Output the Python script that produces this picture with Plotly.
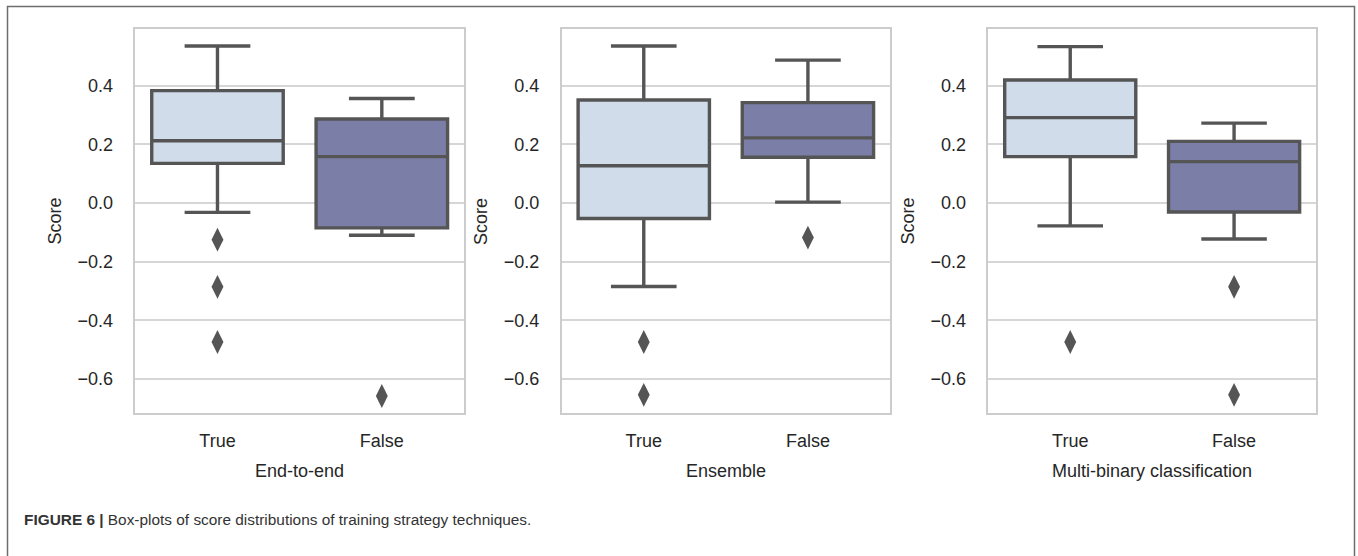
import plotly.graph_objects as go

# ---------------- data ----------------
panels = ["End-to-end", "Ensemble", "Multi-binary classification"]
conditions = ["True", "False"]

upper_whisker = [[0.535, 0.356], [0.535, 0.487], [0.533, 0.272]]
q3_values = [[0.383, 0.286], [0.351, 0.342], [0.419, 0.210]]
medians = [[0.212, 0.158], [0.127, 0.222], [0.291, 0.141]]
q1_values = [[0.135, -0.085], [-0.053, 0.156], [0.158, -0.031]]
lower_whisker = [[-0.032, -0.110], [-0.285, 0.003], [-0.078, -0.123]]
outliers = [
    [[-0.125, -0.286, -0.474], [-0.658]],
    [[-0.474, -0.654], [-0.118]],
    [[-0.474], [-0.286, -0.654]],
]

y_tick_values = [-0.6, -0.4, -0.2, 0.0, 0.2, 0.4]
y_tick_labels = ["\u22120.6", "\u22120.4", "\u22120.2", "0.0", "0.2", "0.4"]
y_title = "Score"
caption_bold = "FIGURE 6 |"
caption_text = "Box-plots of score distributions of training strategy techniques."

# ---------------- styling ----------------
W, H = 1358, 556
fill_colors = ["#d0dcea", "#7b7fa8"]
line_color = "#555555"
text_color = "#262626"
grid_color = "#d6d6d6"
font_family = "Liberation Sans, Arial, sans-serif"

# plot-area pixel boxes (left, right)
x_px = [(135.3, 464.0), (561.7, 890.0), (988.3, 1316.0)]
y_top_px, y_bot_px = 29.3, 413.3
y_range = [-0.717, 0.592]

fig = go.Figure()

for i, name in enumerate(panels):
    xa = "x" if i == 0 else f"x{i+1}"
    ya = "y" if i == 0 else f"y{i+1}"
    for j, cond in enumerate(conditions):
        fig.add_trace(go.Box(
            x=[cond],
            q1=[q1_values[i][j]],
            median=[medians[i][j]],
            q3=[q3_values[i][j]],
            lowerfence=[lower_whisker[i][j]],
            upperfence=[upper_whisker[i][j]],
            fillcolor=fill_colors[j],
            line=dict(color=line_color, width=3.4),
            width=0.8,
            whiskerwidth=0.5,
            boxpoints=False,
            showlegend=False,
            xaxis=xa, yaxis=ya,
        ))
        pts = outliers[i][j]
        fig.add_trace(go.Scatter(
            x=[cond] * len(pts),
            y=pts,
            mode="markers",
            marker=dict(symbol="diamond-tall", size=17, color=line_color,
                        line=dict(width=0)),
            showlegend=False,
            xaxis=xa, yaxis=ya,
        ))

layout = dict(
    width=W, height=H,
    margin=dict(l=0, r=0, t=0, b=0),
    paper_bgcolor="white",
    plot_bgcolor="white",
    font=dict(family=font_family, size=18, color=text_color),
)

annotations = []
for i, name in enumerate(panels):
    suffix = "" if i == 0 else str(i + 1)
    l, r = x_px[i]
    layout[f"xaxis{suffix}"] = dict(
        domain=[l / W, r / W],
        anchor=f"y{suffix}",
        type="category",
        categoryorder="array",
        categoryarray=conditions,
        range=[-0.5, 1.5],
        showgrid=False,
        showline=True, mirror=True, linecolor="#cccccc", linewidth=1.5,
        ticks="", ticklabelstandoff=10,
        tickfont=dict(size=18, color=text_color),
        zeroline=False,
    )
    layout[f"yaxis{suffix}"] = dict(
        domain=[1 - y_bot_px / H, 1 - y_top_px / H],
        anchor=f"x{suffix}",
        range=y_range,
        tickvals=y_tick_values,
        ticktext=y_tick_labels,
        showgrid=True, gridcolor=grid_color, gridwidth=1.5,
        showline=True, mirror=True, linecolor="#cccccc", linewidth=1.5,
        ticks="", ticklabelstandoff=17,
        tickfont=dict(size=18, color=text_color),
        zeroline=False,
    )
    # y title
    annotations.append(dict(
        text=y_title, textangle=-90,
        x=(l - 80) / W, y=1 - ((y_top_px + y_bot_px) / 2) / H,
        xref="paper", yref="paper", xanchor="center", yanchor="middle",
        showarrow=False, font=dict(size=18, color=text_color),
    ))
    # x title
    annotations.append(dict(
        text=name,
        x=((l + r) / 2) / W, y=1 - 471 / H,
        xref="paper", yref="paper", xanchor="center", yanchor="middle",
        showarrow=False, font=dict(size=18, color=text_color),
    ))

annotations.append(dict(
    text=f"<b>{caption_bold}</b> {caption_text}",
    x=22 / W, y=1 - 519 / H,
    xref="paper", yref="paper", xanchor="left", yanchor="middle",
    showarrow=False, font=dict(size=15.4, color="#333333"),
))

layout["annotations"] = annotations
layout["shapes"] = [dict(
    type="rect", xref="paper", yref="paper",
    x0=7.5 / W, x1=1354.5 / W, y0=-0.05, y1=1 - 6.5 / H,
    line=dict(color="#6e6e6e", width=1.5), fillcolor="rgba(0,0,0,0)",
    layer="below",
)]

fig.update_layout(**layout)
fig.write_html(
    "out.html",
    config={"displayModeBar": False},
    post_script="document.body.style.margin='0';document.body.style.padding='0';document.body.style.overflow='hidden';",
)
